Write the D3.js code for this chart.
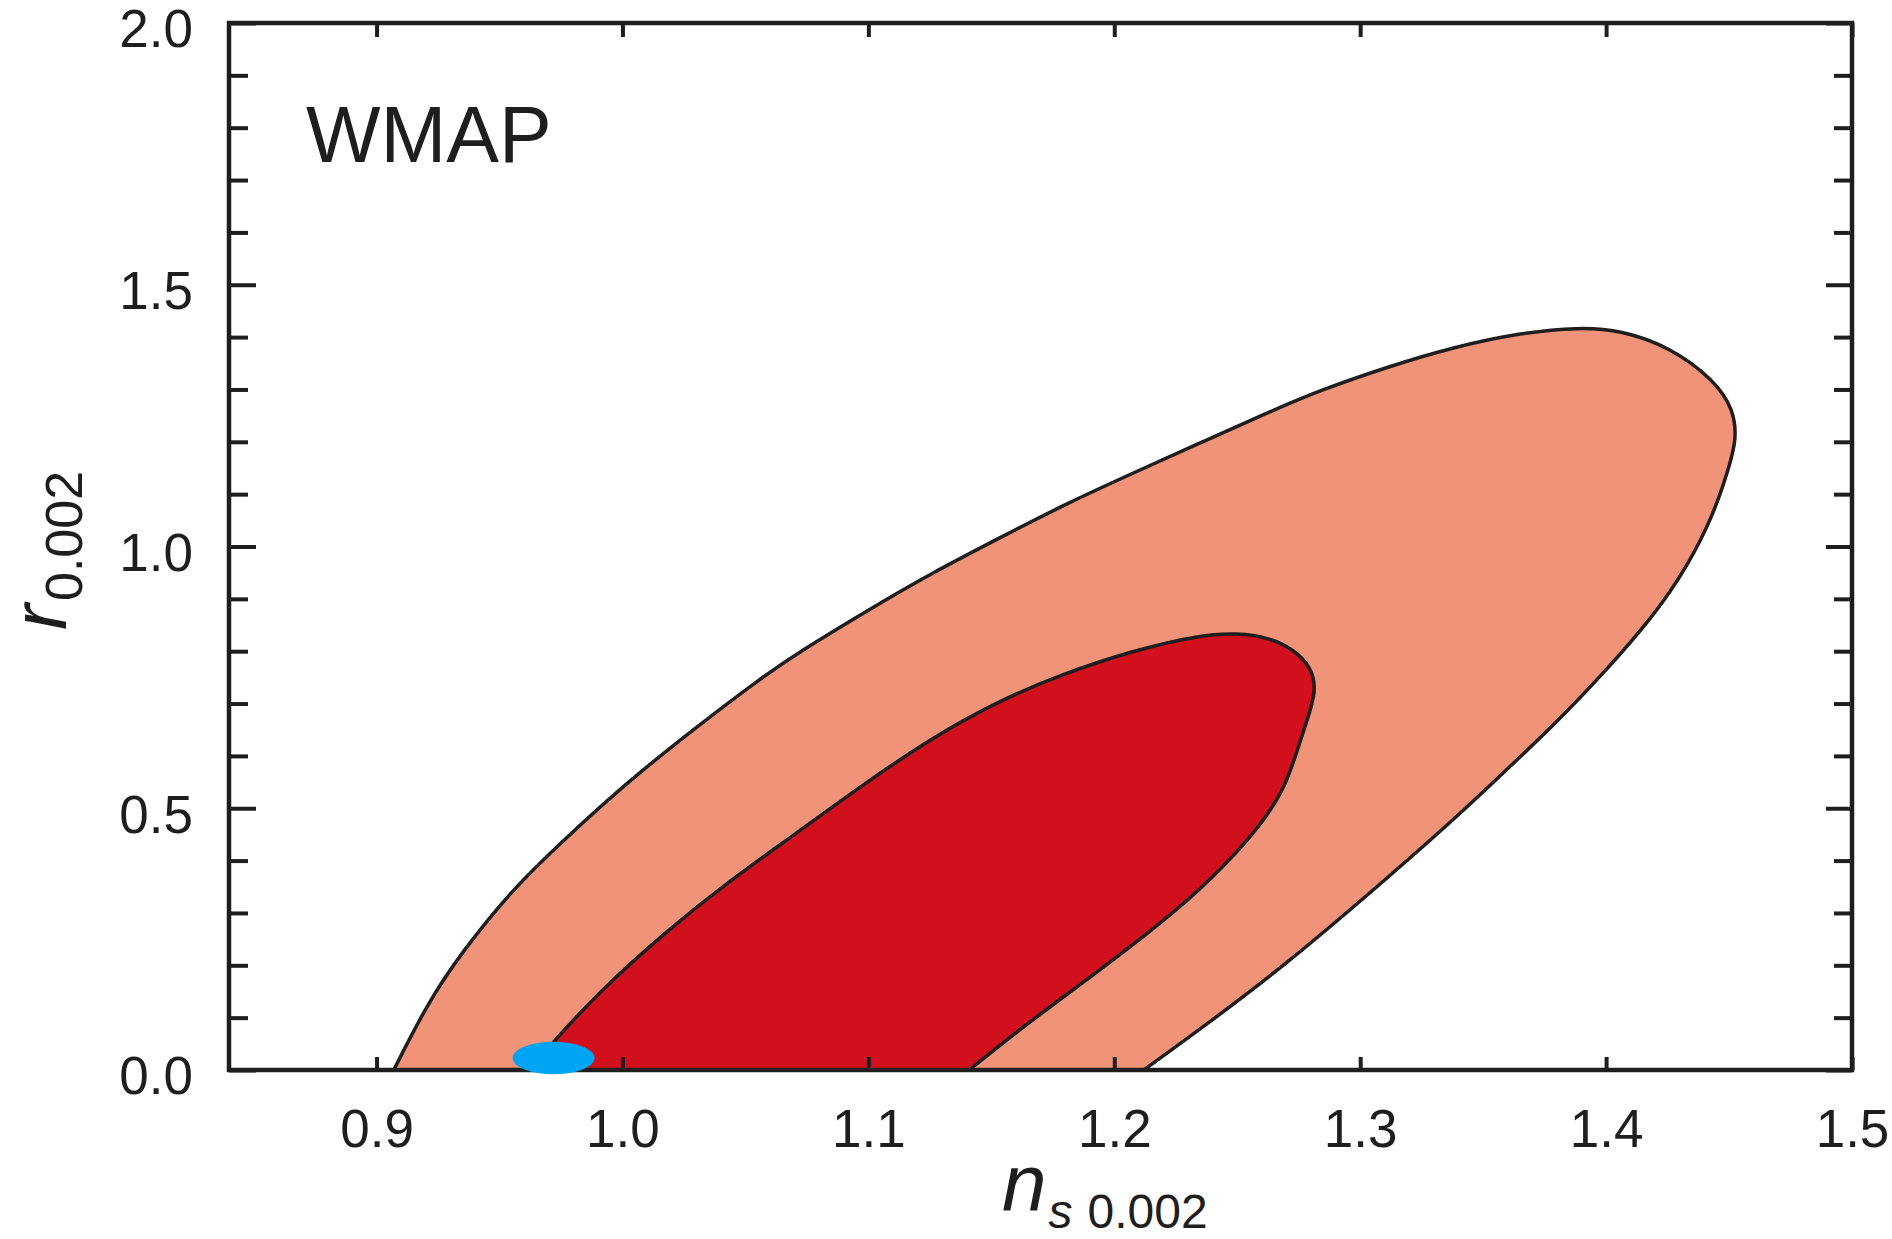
<!DOCTYPE html>
<html>
<head>
<meta charset="utf-8">
<script src="https://cdn.jsdelivr.net/npm/d3@7"></script>
<style>
  body { margin: 0; background: #fff; }
  svg { display: block; font-family: "Liberation Sans", Arial, Helvetica, sans-serif; }
</style>
</head>
<body>
<script>
// WMAP constraints on r vs n_s

var WIDTH = 1892;
var HEIGHT = 1239;
var MARGIN = {left: 229, right: 40, top: 23, bottom: 169};

var X_DOMAIN = [0.84, 1.5];
var Y_DOMAIN = [0, 2];

var xTicks = [0.9, 1.0, 1.1, 1.2, 1.3, 1.4, 1.5];
var yMajorTicks = [0, 0.5, 1.0, 1.5, 2.0];
var yMinorTicks = [0.1, 0.2, 0.3, 0.4, 0.6, 0.7, 0.8, 0.9, 1.1, 1.2, 1.3, 1.4, 1.6, 1.7, 1.8, 1.9];

// 95% contour, traced clockwise from the left foot on r = 0
var outerNs = [0.907, 0.921, 0.935, 0.955, 0.976, 1.003, 1.030, 1.057, 1.072, 1.100, 1.126, 1.154, 1.181, 1.208, 1.235,
               1.262, 1.284, 1.311, 1.338, 1.365, 1.389, 1.406, 1.426, 1.444, 1.452, 1.453, 1.450, 1.444, 1.433,
               1.419, 1.399, 1.378, 1.358, 1.338, 1.304, 1.269, 1.241, 1.212];
var outerR  = [0.000, 0.130, 0.227, 0.344, 0.439, 0.554, 0.655, 0.751, 0.799, 0.879, 0.950, 1.018, 1.083, 1.141, 1.198,
               1.255, 1.299, 1.343, 1.381, 1.408, 1.419, 1.413, 1.381, 1.318, 1.261, 1.203, 1.152, 1.064, 0.961,
               0.865, 0.758, 0.655, 0.567, 0.478, 0.338, 0.199, 0.099, 0.000];

// 68% contour
var innerNs = [0.962, 0.972, 0.990, 1.017, 1.044, 1.071, 1.093, 1.126, 1.154, 1.178, 1.208, 1.235, 1.250, 1.263,
               1.273, 1.280, 1.282, 1.280, 1.275, 1.269, 1.255, 1.235, 1.214, 1.187, 1.161, 1.141];
var innerR  = [0.000, 0.054, 0.147, 0.262, 0.363, 0.453, 0.529, 0.636, 0.707, 0.755, 0.802, 0.831, 0.835, 0.826,
               0.803, 0.770, 0.730, 0.690, 0.620, 0.530, 0.440, 0.344, 0.262, 0.166, 0.076, 0.000];

// Planck-like point (centre and half widths)
var pointNs = 0.972;
var pointR = 0.023;
var pointDNs = 0.0167;
var pointDR = 0.031;

var COLOR_OUTER = "#F09378";
var COLOR_INNER = "#D20F1C";
var COLOR_POINT = "#00A4F4";
var COLOR_INK = "#1e1e1e";

var g_svg, g_x, g_y;

function init() {
    g_svg = d3.select('body').append('svg')
        .attr('width', WIDTH)
        .attr('height', HEIGHT);

    g_x = d3.scaleLinear().domain(X_DOMAIN).range([MARGIN.left, WIDTH - MARGIN.right]);
    g_y = d3.scaleLinear().domain(Y_DOMAIN).range([HEIGHT - MARGIN.bottom, MARGIN.top]);

    drawContour(outerNs, outerR, COLOR_OUTER);
    drawContour(innerNs, innerR, COLOR_INNER);
    drawAxes();
    drawPoint();
    drawLabels();
}

function drawContour(ns, r, color) {
    var pts = ns.map(function (d, i) { return [d, r[i]]; });
    // basis spline smooths out the hand-read points a bit
    var line = d3.line()
        .x(function (d) { return g_x(d[0]); })
        .y(function (d) { return g_y(d[1]); })
        .curve(d3.curveBasis);

    g_svg.append('path')
        .attr('d', line(pts) + 'Z')
        .style('fill', color)
        .style('stroke', COLOR_INK)
        .style('stroke-width', 3.5)
        .style('stroke-linejoin', 'round');
}

function styleAxis(g) {
    g.select('.domain').remove();
    g.selectAll('.tick line').attr('stroke', COLOR_INK).attr('stroke-width', 4);
    g.selectAll('.tick text')
        .attr('fill', COLOR_INK)
        .style('font-size', '53px');
}

function drawAxes() {
    var x0 = g_x.range()[0], x1 = g_x.range()[1];
    var y0 = g_y.range()[0], y1 = g_y.range()[1];

    // left, minor + major
    g_svg.append('g').attr('transform', 'translate(' + x0 + ',0)')
        .call(d3.axisLeft(g_y).tickValues(yMinorTicks).tickSize(-19).tickFormat(''))
        .call(styleAxis);
    g_svg.append('g').attr('transform', 'translate(' + x0 + ',0)')
        .call(d3.axisLeft(g_y).tickValues(yMajorTicks).tickSize(-27).tickPadding(36).tickFormat(d3.format('.1f')))
        .call(styleAxis)
        .selectAll('.tick text').attr('dy', '0.45em');

    // right
    g_svg.append('g').attr('transform', 'translate(' + x1 + ',0)')
        .call(d3.axisRight(g_y).tickValues(yMinorTicks).tickSize(-18).tickFormat(''))
        .call(styleAxis);
    g_svg.append('g').attr('transform', 'translate(' + x1 + ',0)')
        .call(d3.axisRight(g_y).tickValues(yMajorTicks).tickSize(-26).tickFormat(''))
        .call(styleAxis);

    // bottom
    g_svg.append('g').attr('transform', 'translate(0,' + y0 + ')')
        .call(d3.axisBottom(g_x).tickValues(xTicks).tickSize(-13).tickPadding(39).tickFormat(d3.format('.1f')))
        .call(styleAxis);

    // top
    g_svg.append('g').attr('transform', 'translate(0,' + y1 + ')')
        .call(d3.axisTop(g_x).tickValues(xTicks).tickSize(-14).tickFormat(''))
        .call(styleAxis);

    g_svg.append('rect')
        .attr('x', x0).attr('y', y1)
        .attr('width', x1 - x0).attr('height', y0 - y1)
        .style('fill', 'none')
        .style('stroke', COLOR_INK)
        .style('stroke-width', 4.5);
}

function drawPoint() {
    g_svg.append('ellipse')
        .attr('cx', g_x(pointNs))
        .attr('cy', g_y(pointR))
        .attr('rx', g_x(pointNs + pointDNs) - g_x(pointNs))
        .attr('ry', g_y(0) - g_y(pointDR))
        .style('fill', COLOR_POINT);
}

function drawLabels() {
    g_svg.append('text')
        .attr('x', 306).attr('y', 162)
        .style('font-size', '79px')
        .attr('fill', COLOR_INK)
        .text('WMAP');

    // x title: n_s 0.002
    var xt = g_svg.append('text')
        .attr('x', 1002).attr('y', 1211)
        .attr('fill', COLOR_INK);
    xt.append('tspan').style('font-size', '80px').style('font-style', 'italic').text('n');
    xt.append('tspan').style('font-size', '48px').style('font-style', 'italic')
        .attr('dx', 2).attr('dy', 17).text('s');
    xt.append('tspan').style('font-size', '48px')
        .attr('dx', 15).text('0.002');

    // y title: r_0.002
    var yt = g_svg.append('text')
        .attr('transform', 'translate(66,630) rotate(-90)')
        .attr('fill', COLOR_INK);
    yt.append('tspan').style('font-size', '78px').style('font-style', 'italic').text('r');
    yt.append('tspan').style('font-size', '52px')
        .attr('dx', 3).attr('dy', 16).text('0.002');
}

init();
</script>
</body>
</html>
